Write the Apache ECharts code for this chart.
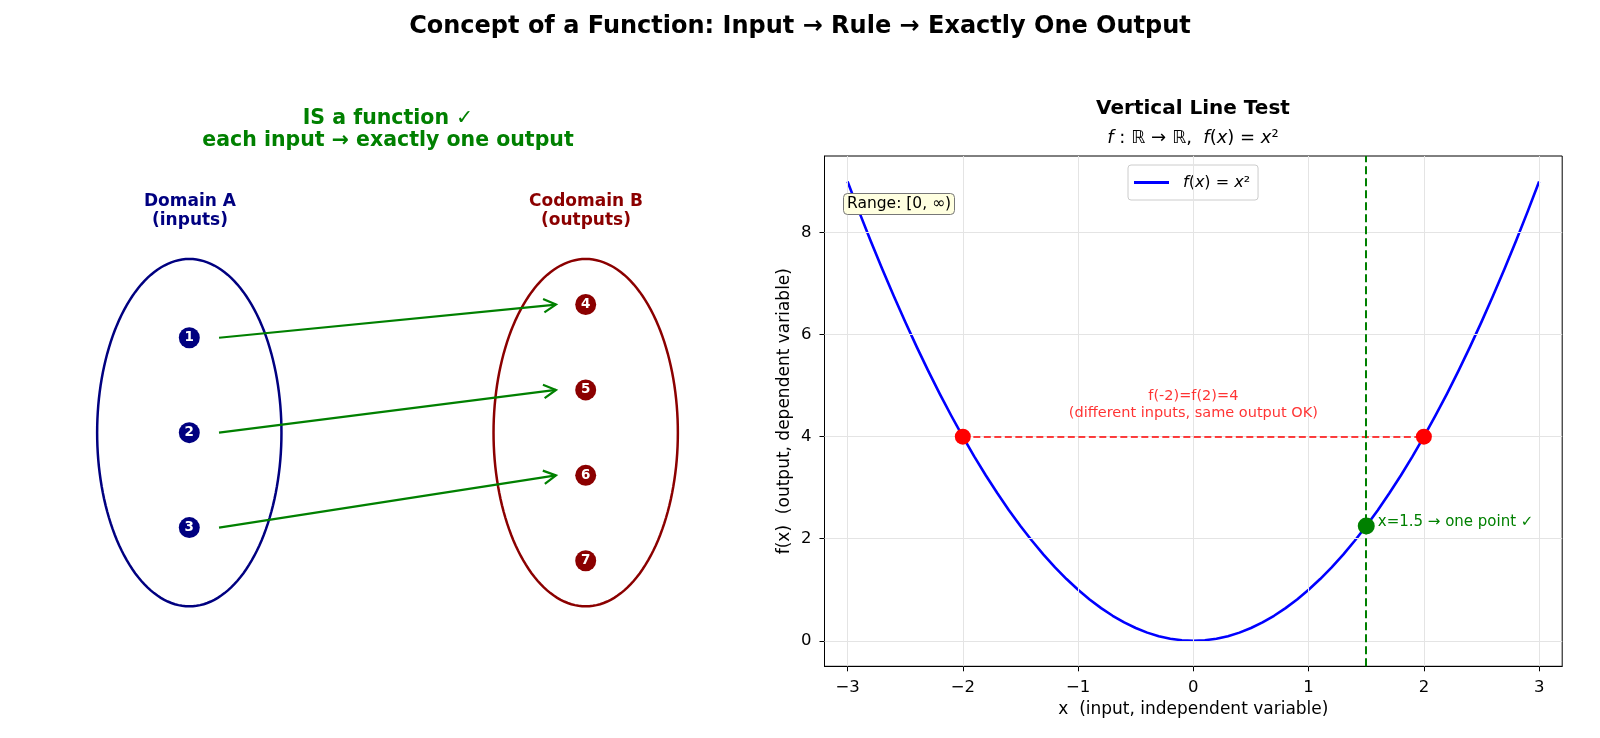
<!DOCTYPE html>
<html>
<head>
<meta charset="utf-8">
<script src="https://cdn.jsdelivr.net/npm/echarts@6.0.0/dist/echarts.min.js"></script>
<style>
  html, body { margin: 0; padding: 0; background: #fff; }
  #main { width: 1600px; height: 738px; }
</style>
</head>
<body>
<div id="main"></div>
<script>
// right panel: f(x) = x^2
var curveX = [-3, -2.9, -2.8, -2.7, -2.6, -2.5, -2.4, -2.3, -2.2, -2.1,
              -2, -1.9, -1.8, -1.7, -1.6, -1.5, -1.4, -1.3, -1.2, -1.1,
              -1, -0.9, -0.8, -0.7, -0.6, -0.5, -0.4, -0.3, -0.2, -0.1, 0,
              0.1, 0.2, 0.3, 0.4, 0.5, 0.6, 0.7, 0.8, 0.9, 1,
              1.1, 1.2, 1.3, 1.4, 1.5, 1.6, 1.7, 1.8, 1.9, 2,
              2.1, 2.2, 2.3, 2.4, 2.5, 2.6, 2.7, 2.8, 2.9, 3];
var curveY = [9, 8.41, 7.84, 7.29, 6.76, 6.25, 5.76, 5.29, 4.84, 4.41,
              4, 3.61, 3.24, 2.89, 2.56, 2.25, 1.96, 1.69, 1.44, 1.21,
              1, 0.81, 0.64, 0.49, 0.36, 0.25, 0.16, 0.09, 0.04, 0.01, 0,
              0.01, 0.04, 0.09, 0.16, 0.25, 0.36, 0.49, 0.64, 0.81, 1,
              1.21, 1.44, 1.69, 1.96, 2.25, 2.56, 2.89, 3.24, 3.61, 4,
              4.41, 4.84, 5.29, 5.76, 6.25, 6.76, 7.29, 7.84, 8.41, 9];
var sameOutX = [-2, 2];
var sameOutY = [4, 4];
var testX = [1.5];
var testY = [2.25];
var xTicks = [-3, -2, -1, 0, 1, 2, 3];
var yTicks = [0, 2, 4, 6, 8];

// left panel: mapping diagram
var domainLabels = ['1', '2', '3'];
var domainY = [3.5, 2.5, 1.5];
var codomainLabels = ['4', '5', '6', '7'];
var codomainY = [3.85, 2.95, 2.05, 1.15];
var mapping = [[0, 0], [1, 1], [2, 2]];   // domain index -> codomain index
var setX = [1.5, 5.5];
var setColors = ['#000080', '#8b0000'];

var chart = echarts.init(document.getElementById('main'));
var FONT = 'DejaVu Sans';

function minus(v) { return v < 0 ? '\u2212' + Math.abs(v) : String(v); }

var ellipseData = setX.map(function (x) { return [x, 2.5, 0.93, 1.83]; });
var arrowData = mapping.map(function (m) {
  return [setX[0] + 0.3, domainY[m[0]], setX[1] - 0.3, codomainY[m[1]]];
});

option = {
  animation: false,
  backgroundColor: '#fff',
  textStyle: { fontFamily: FONT },
  title: [
    { text: 'Concept of a Function: Input \u2192 Rule \u2192 Exactly One Output',
      left: 800, top: 15, textAlign: 'center', padding: 0,
      textStyle: { fontFamily: FONT, fontSize: 24, fontWeight: 'bold', color: '#000' } },
    { text: 'IS a function \u2713\neach input \u2192 exactly one output',
      left: 388, top: 108, textAlign: 'center', padding: 0,
      textStyle: { fontFamily: FONT, fontSize: 20.5, fontWeight: 'bold', color: '#008000', lineHeight: 22, align: 'center' } },
    { text: 'Domain A\n(inputs)',
      left: 190, top: 191.5, textAlign: 'center', padding: 0,
      textStyle: { fontFamily: FONT, fontSize: 17, fontWeight: 'bold', color: '#000080', lineHeight: 19.5, align: 'center' } },
    { text: 'Codomain B\n(outputs)',
      left: 586, top: 191.5, textAlign: 'center', padding: 0,
      textStyle: { fontFamily: FONT, fontSize: 17, fontWeight: 'bold', color: '#8b0000', lineHeight: 19.5, align: 'center' } },
    { text: 'Vertical Line Test',
      left: 1193, top: 99, textAlign: 'center', padding: 0,
      textStyle: { fontFamily: FONT, fontSize: 20, fontWeight: 'bold', color: '#000' } },
    { text: '{i|f} : \u211D \u2192 \u211D,  {i|f}({i|x}) = {i|x}\u00B2',
      left: 1193, top: 129, textAlign: 'center', padding: 0,
      textStyle: { fontFamily: FONT, fontSize: 18, fontWeight: 'normal', color: '#000',
        rich: { i: { fontFamily: FONT, fontSize: 18, fontWeight: 'normal', fontStyle: 'italic', color: '#000' } } } },
    { text: 'Range: [0, \u221E)',
      left: 843, top: 193, padding: [3, 4, 3, 4],
      backgroundColor: '#ffffe0', borderColor: '#777', borderWidth: 1, borderRadius: 4,
      textStyle: { fontFamily: FONT, fontSize: 15.5, fontWeight: 'normal', color: '#000' } }
  ],
  legend: {
    data: ['f(x) = x\u00B2'],
    left: 1128, top: 165,
    padding: [9.5, 8, 9.5, 6],
    borderColor: '#ccc', borderWidth: 1, borderRadius: 3,
    backgroundColor: '#fff',
    icon: 'rect', itemWidth: 35, itemHeight: 3,
    formatter: function () { return '{i|f}({i|x}) = {i|x}\u00B2'; },
    textStyle: { fontFamily: FONT, fontSize: 16, color: '#000', padding: [0, 0, 0, 9],
      rich: { i: { fontFamily: FONT, fontSize: 16, fontStyle: 'italic', color: '#000' } } }
  },
  grid: [
    { left: 824.5, top: 156, width: 737.7, height: 510.3, show: true,
      borderColor: '#000', borderWidth: 1, containLabel: false },
    { left: 40.65, top: 100.5, width: 693.7, height: 569.4, show: false }
  ],
  xAxis: [
    { type: 'value', gridIndex: 0, min: -3.2, max: 3.2,
      name: 'x  (input, independent variable)', nameLocation: 'middle', nameGap: 35,
      nameTextStyle: { fontFamily: FONT, fontSize: 17, color: '#000' },
      axisLine: { onZero: false, lineStyle: { color: '#000', width: 1 } },
      axisTick: { show: true, inside: false, length: 5, customValues: xTicks, lineStyle: { color: '#000' } },
      axisLabel: { customValues: xTicks, formatter: minus, margin: 13,
        fontFamily: FONT, fontSize: 16.5, color: '#000' },
      splitLine: { show: false } },
    { type: 'value', gridIndex: 1, min: 0, max: 7, show: false }
  ],
  yAxis: [
    { type: 'value', gridIndex: 0, min: -0.5, max: 9.5,
      name: 'f(x)  (output, dependent variable)', nameLocation: 'middle', nameGap: 31,
      nameTextStyle: { fontFamily: FONT, fontSize: 17, color: '#000' },
      axisLine: { show: true, onZero: false, lineStyle: { color: '#000', width: 1 } },
      axisTick: { show: true, inside: false, length: 5, customValues: yTicks, lineStyle: { color: '#000' } },
      axisLabel: { customValues: yTicks, formatter: minus, margin: 13,
        fontFamily: FONT, fontSize: 16.5, color: '#000' },
      splitLine: { show: false } },
    { type: 'value', gridIndex: 1, min: 0, max: 6, show: false }
  ],
  series: [
    // light grid lines at the ticks
    { type: 'line', xAxisIndex: 0, yAxisIndex: 0, data: [], z: 1, silent: true,
      markLine: { silent: true, symbol: 'none', label: { show: false },
        lineStyle: { color: '#e4e4e4', type: 'solid', width: 1 },
        data: xTicks.map(function (v) { return { xAxis: v }; })
          .concat(yTicks.map(function (v) { return { yAxis: v }; })) } },
    { name: 'f(x) = x\u00B2', type: 'line', xAxisIndex: 0, yAxisIndex: 0, z: 3,
      data: curveX.map(function (x, i) { return [x, curveY[i]]; }),
      smooth: false, symbol: 'none', itemStyle: { color: '#0000ff' },
      lineStyle: { color: '#0000ff', width: 2.6, join: 'round' } },
    // same output, different inputs
    { type: 'line', xAxisIndex: 0, yAxisIndex: 0, data: [], z: 2, silent: true,
      markLine: { silent: true, symbol: 'none', label: { show: false },
        lineStyle: { color: '#ff0000', width: 1.7, opacity: 1, type: [7, 3.5] },
        data: [[{ coord: [sameOutX[0], sameOutY[0]] }, { coord: [sameOutX[1], sameOutY[1]] }]] } },
    // vertical line test at x = 1.5
    { type: 'line', xAxisIndex: 0, yAxisIndex: 0, data: [], z: 2,
      markLine: { silent: true, symbol: 'none', label: { show: false },
        lineStyle: { color: '#008000', width: 2, type: [8, 4] },
        data: testX.map(function (v) { return { xAxis: v }; }) } },
    { type: 'scatter', xAxisIndex: 0, yAxisIndex: 0, z: 5, symbolSize: 16,
      data: sameOutX.map(function (x, i) { return [x, sameOutY[i]]; }),
      itemStyle: { color: '#ff0000', opacity: 1 } },
    { type: 'scatter', xAxisIndex: 0, yAxisIndex: 0, z: 5, symbolSize: 17,
      data: testX.map(function (x, i) { return [x, testY[i]]; }),
      itemStyle: { color: '#008000', opacity: 1 },
      label: { show: true, position: 'right', distance: 3, offset: [0, -4],
        formatter: 'x=1.5 \u2192 one point \u2713',
        fontFamily: FONT, fontSize: 15, color: '#008000' } },
    { type: 'scatter', xAxisIndex: 0, yAxisIndex: 0, z: 5, symbolSize: 0, silent: true,
      data: [[0, 4.3]],
      label: { show: true, position: 'top', distance: 0,
        formatter: 'f(-2)=f(2)=4\n(different inputs, same output OK)',
        fontFamily: FONT, fontSize: 14.5, color: '#ff0000', align: 'center', lineHeight: 16.5 } },

    // left panel: sets as ellipses
    { type: 'custom', xAxisIndex: 1, yAxisIndex: 1, silent: true, z: 2,
      data: ellipseData,
      encode: { x: 0, y: 1 },
      renderItem: function (params, api) {
        var cx = api.value(0), cy = api.value(1), rx = api.value(2), ry = api.value(3);
        var pts = [];
        for (var k = 0; k <= 160; k++) {
          var t = k / 160 * Math.PI * 2;
          pts.push(api.coord([cx + rx * Math.cos(t), cy + ry * Math.sin(t)]));
        }
        return { type: 'polyline', shape: { points: pts },
          style: { fill: null, stroke: setColors[params.dataIndex], lineWidth: 2.5 } };
      } },
    // arrows
    { type: 'custom', xAxisIndex: 1, yAxisIndex: 1, silent: true, z: 3,
      data: arrowData,
      encode: { x: [0, 2], y: [1, 3] },
      renderItem: function (params, api) {
        var p1 = api.coord([api.value(0), api.value(1)]);
        var p2 = api.coord([api.value(2), api.value(3)]);
        var a = Math.atan2(p2[1] - p1[1], p2[0] - p1[0]);
        var L = 14, W = 0.5;
        var h1 = [p2[0] - L * Math.cos(a - W), p2[1] - L * Math.sin(a - W)];
        var h2 = [p2[0] - L * Math.cos(a + W), p2[1] - L * Math.sin(a + W)];
        var st = { stroke: '#008000', lineWidth: 2.2, fill: null, lineJoin: 'miter' };
        return { type: 'group', children: [
          { type: 'line', shape: { x1: p1[0], y1: p1[1], x2: p2[0], y2: p2[1] }, style: st },
          { type: 'polyline', shape: { points: [h1, p2, h2] }, style: st }
        ] };
      } },
    // elements
    { type: 'scatter', xAxisIndex: 1, yAxisIndex: 1, z: 4, symbolSize: 21,
      data: domainLabels.map(function (s, i) { return [setX[0], domainY[i], s]; }),
      itemStyle: { color: setColors[0], opacity: 1 },
      label: { show: true, position: 'inside', formatter: function (p) { return p.value[2]; },
        fontFamily: FONT, fontSize: 13.5, fontWeight: 'bold', color: '#fff' } },
    { type: 'scatter', xAxisIndex: 1, yAxisIndex: 1, z: 4, symbolSize: 21,
      data: codomainLabels.map(function (s, i) { return [setX[1], codomainY[i], s]; }),
      itemStyle: { color: setColors[1], opacity: 1 },
      label: { show: true, position: 'inside', formatter: function (p) { return p.value[2]; },
        fontFamily: FONT, fontSize: 13.5, fontWeight: 'bold', color: '#fff' } }
  ]
};

chart.setOption(option);
window.addEventListener('resize', chart.resize);
</script>
</body>
</html>
